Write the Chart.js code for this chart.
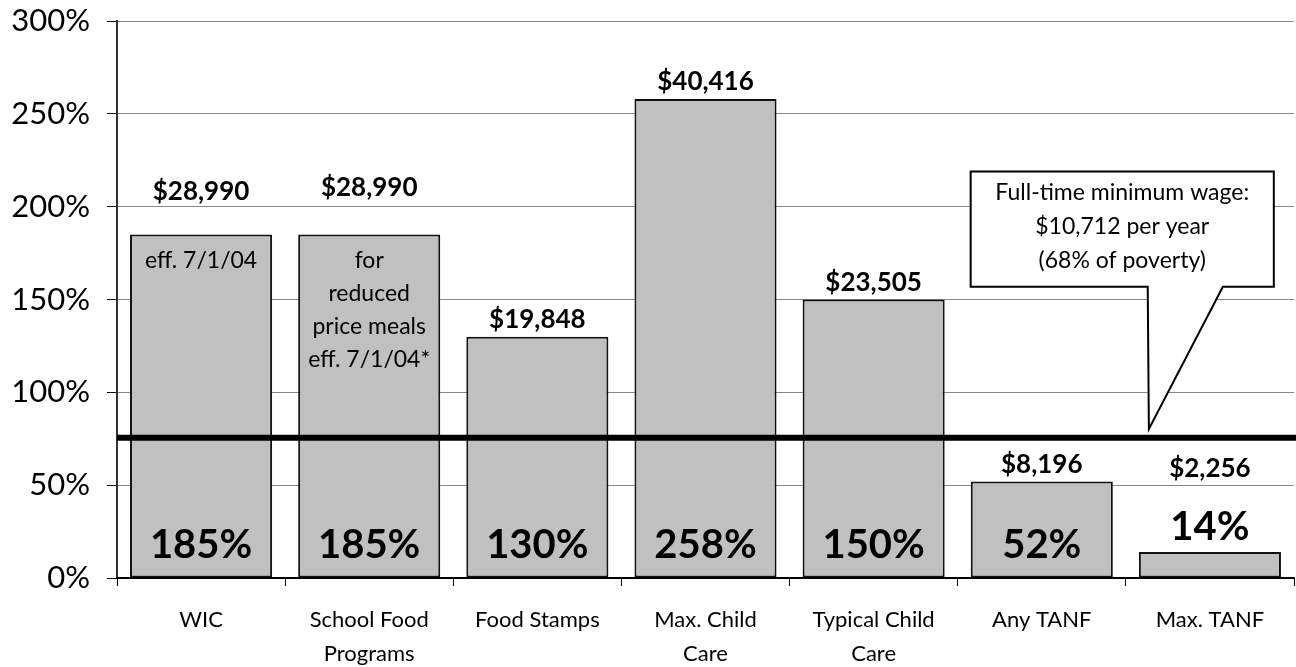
<!DOCTYPE html>
<html>
<head>
<meta charset="utf-8">
<script src="https://cdn.jsdelivr.net/npm/chart.js@4.4.1/dist/chart.umd.min.js"></script>
<style>
html,body{margin:0;padding:0;background:#fff;}
#wrap{width:1296px;height:667px;position:relative;}
</style>
</head>
<body>
<div id="wrap"><canvas id="c" width="1296" height="667"></canvas></div>
<script>
// ---- data ----
const categories = [
  ['WIC'], ['School Food', 'Programs'], ['Food Stamps'], ['Max. Child', 'Care'],
  ['Typical Child', 'Care'], ['Any TANF'], ['Max. TANF']
];
const percentOfPoverty = [185, 185, 130, 258, 150, 52, 14];
const dollarLabels = ['$28,990', '$28,990', '$19,848', '$40,416', '$23,505', '$8,196', '$2,256'];
const barNotes = [['eff. 7/1/04'], ['for', 'reduced', 'price meals', 'eff. 7/1/04*'], [], [], [], [], []];
const yTickValues = [0, 50, 100, 150, 200, 250, 300];
const minWageLineValue = 75.5;
const calloutLines = ['Full-time minimum wage:', '$10,712 per year', '(68% of poverty)'];

const FONT = 'Lato, "DejaVu Sans", sans-serif';

// dollar label placement (y in axis units when not just above bar)
const dollarLabelY = [208, 210, null, null, null, null, 59];

const overlay = {
  id: 'overlay',
  afterDatasetsDraw(chart) {
    const ctx = chart.ctx;
    const meta = chart.getDatasetMeta(0);
    const ys = chart.scales.y, xs = chart.scales.x;
    const area = chart.chartArea;
    ctx.save();
    ctx.textAlign = 'center';
    ctx.fillStyle = '#000';
    meta.data.forEach((bar, i) => {
      ctx.font = 'bold 26px ' + FONT;
      ctx.textBaseline = 'middle';
      const dy = dollarLabelY[i] != null ? ys.getPixelForValue(dollarLabelY[i]) : bar.y - 17;
      ctx.fillText(dollarLabels[i], bar.x, dy);
      ctx.font = 'bold 40px ' + FONT;
      ctx.textBaseline = 'alphabetic';
      const py = (bar.base - bar.y) > 60 ? bar.base - 20 : bar.y - 12;
      ctx.fillText(percentOfPoverty[i] + '%', bar.x, py);
      ctx.font = '23px ' + FONT;
      ctx.textBaseline = 'middle';
      barNotes[i].forEach((t, k) => ctx.fillText(t, bar.x, bar.y + 26 + k * 33));
    });
    const ly = ys.getPixelForValue(minWageLineValue);
    ctx.strokeStyle = '#000';
    ctx.lineWidth = 6;
    ctx.beginPath();
    ctx.moveTo(area.left, ly);
    ctx.lineTo(chart.width, ly);
    ctx.stroke();
    const X = v => xs.getPixelForValue(v);
    const Y = v => ys.getPixelForValue(v);
    const bl = X(4.577), br = X(6.38), bt = Y(218.9), bb = Y(156.9);
    const p1 = X(5.63), p2 = X(6.077), tx = X(5.637), ty = Y(80.3);
    ctx.beginPath();
    ctx.moveTo(bl, bt);
    ctx.lineTo(br, bt);
    ctx.lineTo(br, bb);
    ctx.lineTo(p2, bb);
    ctx.lineTo(tx, ty);
    ctx.lineTo(p1, bb);
    ctx.lineTo(bl, bb);
    ctx.closePath();
    ctx.fillStyle = '#fff';
    ctx.fill();
    ctx.lineWidth = 2;
    ctx.strokeStyle = '#000';
    ctx.stroke();
    ctx.fillStyle = '#000';
    ctx.font = '23px ' + FONT;
    ctx.textBaseline = 'middle';
    const cx = (bl + br) / 2;
    calloutLines.forEach((t, k) => ctx.fillText(t, cx, bt + 21 + k * 34));
    ctx.restore();
  }
};

new Chart(document.getElementById('c'), {
  type: 'bar',
  data: {
    labels: categories,
    datasets: [{
      data: percentOfPoverty,
      backgroundColor: '#c0c0c0',
      borderColor: '#111',
      borderWidth: 2,
      borderSkipped: false,
      barPercentage: 0.845,
      categoryPercentage: 1
    }]
  },
  options: {
    responsive: false,
    animation: false,
    devicePixelRatio: 1,
    layout: { padding: { top: 21, right: 2, left: 0, bottom: 0 } },
    plugins: { legend: { display: false }, tooltip: { enabled: false } },
    scales: {
      y: {
        min: 0, max: 300,
        afterFit(s) { s.width = 117; s.paddingTop = 0; },
        afterBuildTicks(s) { s.ticks = yTickValues.map(v => ({ value: v })); },
        ticks: {
          callback: v => v + '%',
          font: { family: FONT, size: 31 },
          color: '#000',
          padding: 17
        },
        grid: { color: '#888', lineWidth: 1, tickLength: 10, tickColor: '#000' },
        border: { color: '#333', width: 2 }
      },
      x: {
        afterFit(s) { s.height = 89; },
        ticks: {
          font: { family: FONT, size: 22, lineHeight: 1.55 },
          color: '#000',
          padding: 17,
          maxRotation: 0,
          autoSkip: false
        },
        grid: { drawOnChartArea: false, tickLength: 8, tickColor: '#000', offset: true },
        border: { color: '#000', width: 2 }
      }
    }
  },
  plugins: [overlay]
});
</script>
</body>
</html>
